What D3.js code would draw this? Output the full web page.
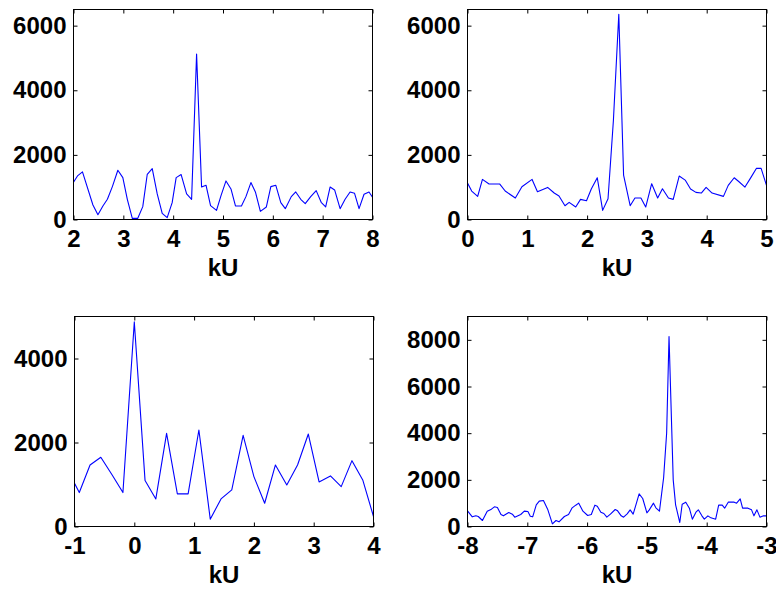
<!DOCTYPE html>
<html>
<head>
<meta charset="utf-8">
<script src="https://cdn.jsdelivr.net/npm/d3@7"></script>
<style>
  html, body { margin: 0; padding: 0; background: #fff; }
  svg text { font-family: "Liberation Sans", Arial, Helvetica, sans-serif; font-weight: bold; }
</style>
</head>
<body>
<svg id="chart" width="776" height="592"></svg>
<script>
// ---------- data ----------
const xLabel = "kU";

const p1X = [2.0,2.08,2.18,2.39,2.49,2.59,2.68,2.78,2.89,2.99,3.08,3.18,3.29,3.39,3.48,3.58,3.68,3.78,3.88,3.98,4.06,4.16,4.27,4.37,4.47,4.57,4.66,4.75,4.87,4.96,5.06,5.16,5.25,5.37,5.46,5.56,5.65,5.75,5.87,5.96,6.06,6.16,6.25,6.37,6.46,6.56,6.65,6.76,6.87,6.97,7.06,7.15,7.24,7.35,7.45,7.55,7.64,7.73,7.83,7.93,8.0];
const p1Y = [1152,1349,1473,450,150,419,625,1018,1525,1297,625,36,36,398,1400,1576,791,191,57,522,1297,1390,791,625,5121,1008,1059,429,284,739,1194,946,419,419,708,1142,853,253,388,1018,1059,522,336,708,853,625,491,708,894,532,388,1008,915,336,625,853,811,336,780,853,687];

const p2X = [0.0,0.07,0.17,0.25,0.36,0.54,0.63,0.80,0.91,1.08,1.17,1.34,1.45,1.53,1.63,1.70,1.81,1.89,1.99,2.07,2.17,2.26,2.35,2.44,2.53,2.61,2.72,2.80,2.90,2.98,3.08,3.18,3.26,3.36,3.44,3.54,3.64,3.73,3.82,3.91,3.99,4.09,4.28,4.36,4.46,4.54,4.64,4.73,4.83,4.91,5.0];
const p2Y = [1128,881,716,1241,1097,1097,881,664,1014,1241,860,994,819,726,427,530,386,623,582,942,1292,283,644,3074,6350,1375,427,664,664,386,1107,664,953,664,623,1344,1220,942,840,819,994,819,716,1056,1292,1169,1004,1272,1581,1581,1056];

const p3X = [-1.0,-0.92,-0.74,-0.56,-0.37,-0.19,0.0,0.18,0.36,0.54,0.72,0.90,1.08,1.27,1.45,1.63,1.82,2.0,2.18,2.36,2.55,2.73,2.91,3.09,3.28,3.46,3.64,3.82,4.0];
const p3Y = [1030,808,1465,1648,1228,808,4871,1093,657,2218,776,776,2297,174,657,871,2170,1188,554,1465,990,1465,2202,1061,1204,950,1568,1109,238];

const p4X = [-8.0,-7.92,-7.86,-7.82,-7.75,-7.67,-7.60,-7.55,-7.50,-7.44,-7.40,-7.31,-7.25,-7.21,-7.11,-7.05,-6.99,-6.95,-6.91,-6.85,-6.80,-6.73,-6.66,-6.58,-6.52,-6.47,-6.38,-6.31,-6.25,-6.19,-6.14,-6.07,-5.99,-5.93,-5.87,-5.83,-5.77,-5.72,-5.67,-5.61,-5.53,-5.49,-5.43,-5.39,-5.33,-5.28,-5.23,-5.18,-5.13,-5.07,-5.0,-4.96,-4.89,-4.85,-4.79,-4.72,-4.67,-4.63,-4.56,-4.52,-4.45,-4.41,-4.35,-4.29,-4.24,-4.18,-4.14,-4.08,-4.04,-3.98,-3.93,-3.85,-3.80,-3.74,-3.70,-3.64,-3.54,-3.50,-3.44,-3.40,-3.31,-3.25,-3.21,-3.16,-3.11,-3.05,-3.0];
const p4Y = [671,414,457,429,257,657,743,843,814,514,457,600,529,400,514,657,643,443,414,929,1086,1114,743,114,257,200,429,514,800,914,1000,657,471,514,914,871,614,557,400,529,729,671,457,400,543,714,529,957,1400,1200,586,714,1000,800,657,2100,4000,8143,2000,929,171,957,1043,786,314,614,714,457,314,457,371,314,914,914,786,1043,1043,1000,1186,786,786,714,457,714,400,457,457];

const p1XTicks = [2,3,4,5,6,7,8];
const p2XTicks = [0,1,2,3,4,5];
const p3XTicks = [-1,0,1,2,3,4];
const p4XTicks = [-8,-7,-6,-5,-4,-3];
const p1YTicks = [0,2000,4000,6000];
const p2YTicks = [0,2000,4000,6000];
const p3YTicks = [0,2000,4000];
const p4YTicks = [0,2000,4000,6000,8000];

const p1Dom = { x: [2, 8],  y: [0, 6500] };
const p2Dom = { x: [0, 5],  y: [0, 6500] };
const p3Dom = { x: [-1, 4], y: [0, 5000] };
const p4Dom = { x: [-8, -3], y: [0, 9000] };

// ---------- layout ----------
const panels = [
  { xs: p1X, ys: p1Y, dom: p1Dom, xt: p1XTicks, yt: p1YTicks, box: { l: 73.5, r: 372.5, t: 9.5, b: 219.5 } },
  { xs: p2X, ys: p2Y, dom: p2Dom, xt: p2XTicks, yt: p2YTicks, box: { l: 467.5, r: 766.5, t: 9.5, b: 219.5 } },
  { xs: p3X, ys: p3Y, dom: p3Dom, xt: p3XTicks, yt: p3YTicks, box: { l: 74.5, r: 373.5, t: 316.5, b: 526.5 } },
  { xs: p4X, ys: p4Y, dom: p4Dom, xt: p4XTicks, yt: p4YTicks, box: { l: 467.5, r: 766.5, t: 316.5, b: 526.5 } }
];

const svg = d3.select("#chart");
const fontSize = 24;
const tickLen = 4;
const fmt = d => String(d);   // plain hyphen-minus, as in the reference

panels.forEach(p => {
  const b = p.box;
  const x = d3.scaleLinear().domain(p.dom.x).range([b.l, b.r]);
  const y = d3.scaleLinear().domain(p.dom.y).range([b.b, b.t]);
  const g = svg.append("g");

  const data = p.xs.map((v, i) => [v, p.ys[i]]);
  g.append("path")
    .datum(data)
    .attr("fill", "none")
    .attr("stroke", "#0000ff")
    .attr("stroke-width", 1.1)
    .attr("stroke-linejoin", "round")
    .attr("d", d3.line().x(d => x(d[0])).y(d => y(d[1])));

  g.append("rect")
    .attr("x", b.l).attr("y", b.t)
    .attr("width", b.r - b.l).attr("height", b.b - b.t)
    .attr("fill", "none").attr("stroke", "#000").attr("stroke-width", 1);

  const bottom = d3.axisBottom(x).tickValues(p.xt).tickSize(-tickLen).tickPadding(10).tickFormat(fmt);
  const top = d3.axisTop(x).tickValues(p.xt).tickSize(-tickLen).tickFormat("");
  const left = d3.axisLeft(y).tickValues(p.yt).tickSize(-tickLen).tickPadding(7).tickFormat(fmt);
  const right = d3.axisRight(y).tickValues(p.yt).tickSize(-tickLen).tickFormat("");

  const styleAxis = sel => {
    sel.select(".domain").remove();
    sel.selectAll(".tick line").attr("stroke", "#000").attr("stroke-width", 1);
    sel.selectAll("text").attr("fill", "#000").style("font-size", fontSize + "px")
      .style("font-family", '"Liberation Sans", Arial, sans-serif').style("font-weight", "bold");
  };

  g.append("g").attr("transform", `translate(0,${b.b})`).call(bottom).call(styleAxis)
    .selectAll("text").attr("dy", "0.71em");
  g.append("g").attr("transform", `translate(0,${b.t})`).call(top).call(styleAxis);
  g.append("g").attr("transform", `translate(${b.l},0)`).call(left).call(styleAxis);
  g.append("g").attr("transform", `translate(${b.r},0)`).call(right).call(styleAxis);

  g.append("text")
    .attr("x", (b.l + b.r) / 2)
    .attr("y", b.b + 56)
    .attr("text-anchor", "middle")
    .style("font-size", fontSize + "px")
    .attr("fill", "#000")
    .text(xLabel);
});
</script>
</body>
</html>
